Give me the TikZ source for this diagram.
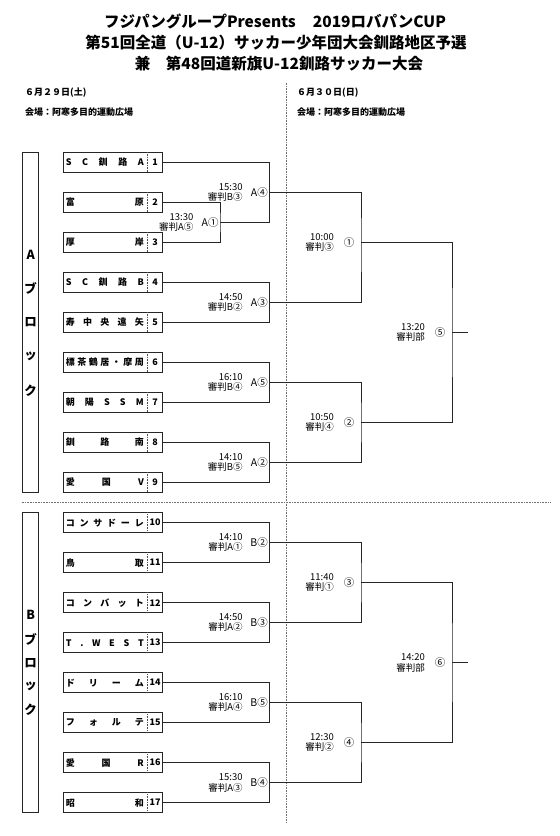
\documentclass[tikz,border=0pt]{standalone}
\usepackage{fontspec}
\setmainfont{Noto Sans CJK JP}
\usetikzlibrary{calc}
\tikzset{
  ln/.style={line width=0.8pt, draw=black!85},
  sep/.style={line width=0.7pt, draw=black!55, dash pattern=on 0.8pt off 0.8pt},
  teambox/.style={draw=black!85, line width=0.8pt, minimum width=99.4pt, minimum height=20pt, inner sep=0pt},
  blockbox/.style={draw=black!85, line width=0.9pt, minimum width=16pt, inner sep=0pt},
  blkch/.style={font=\fontsize{12.5}{12.5}\selectfont\bfseries, inner sep=0pt},
  tname/.style={anchor=west, inner sep=0pt, font=\fontsize{9}{9}\selectfont\bfseries},
  tnum/.style={inner sep=0pt, font=\fontsize{9}{9}\selectfont\bfseries},
  timelbl/.style={anchor=east, align=right, inner sep=0pt, font=\fontsize{9.5}{10.5}\selectfont},
  reslbl/.style={anchor=east, inner sep=0pt, font=\fontsize{10.5}{10.5}\selectfont},
  rndlbl/.style={inner sep=0pt, font=\fontsize{10.5}{10.5}\selectfont},
  titlef/.style={inner sep=0pt, font=\fontsize{15.5}{15.5}\selectfont\bfseries},
  datef/.style={anchor=west, inner sep=0pt, font=\fontsize{9}{9}\selectfont\bfseries}
}
\newcommand{\nm}[1]{\hbox to 78pt{#1}}
\begin{document}
\begin{tikzpicture}[x=1pt,y=-1pt]
\useasboundingbox (0,0) rectangle (560,836);
\fill[white] (0,0) rectangle (560,836);

% titles
\node[titlef] (ttl1) at (275,21.7) {フジパングループPresents\hspace{1.1em}2019ロバパンCUP};
\node[titlef] (ttl2) at (276,42.7) {第51回全道（U-12）サッカー少年団大会釧路地区予選};
\node[titlef] (ttl3) at (279,63.3) {兼　第48回道新旗U-12釧路サッカー大会};

% dates
\node[datef] (d1) at (25,92.3) {６月２９日(土)};
\node[datef] (v1) at (25,112.5) {会場：阿寒多目的運動広場};
\node[datef] (d2) at (297,92.3) {６月３０日(日)};
\node[datef] (v2) at (297,112.5) {会場：阿寒多目的運動広場};

% separators
\coordinate (sv1) at (286.7,82.7);
\coordinate (sv2) at (286.7,823);
\coordinate (sh1) at (21.7,502.7);
\coordinate (sh2) at (551,502.7);
\draw[sep] (sv1) -- (sv2);
\draw[sep] (sh1) -- (sh2);

% block boxes
\node[blockbox, minimum height=339.6pt] (blkA) at (30.7,322.5) {};
\node[blkch] (a1) at (30.7,254.5) {A};
\node[blkch] (a2) at (30.7,288.5) {ブ};
\node[blkch] (a3) at (30.7,322.5) {ロ};
\node[blkch] (a4) at (30.7,356.5) {ッ};
\node[blkch] (a5) at (30.7,390.5) {ク};
\node[blockbox, minimum height=300pt] (blkB) at (30.7,662.7) {};
\node[blkch] (b1) at (30.7,615.3) {B};
\node[blkch] (b2) at (30.7,639) {ブ};
\node[blkch] (b3) at (30.7,662.7) {ロ};
\node[blkch] (b4) at (30.7,686.4) {ッ};
\node[blkch] (b5) at (30.7,710.1) {ク};

% teams
\foreach \i/\y/\n in {
 1/162.5/{S\hfill C\hfill 釧\hfill 路\hfill A},
 2/202.5/{富\hfill 原},
 3/242.5/{厚\hfill 岸},
 4/282.5/{S\hfill C\hfill 釧\hfill 路\hfill B},
 5/322.5/{寿\hfill 中\hfill 央\hfill 遠\hfill 矢},
 6/362.5/{標\hfill 茶\hfill 鶴\hfill 居\hfill ・\hfill 摩\hfill 周},
 7/402.5/{朝\hfill 陽\hfill S\hfill S\hfill M},
 8/442.5/{釧\hfill 路\hfill 南},
 9/482.5/{愛\hfill 国\hfill V},
 10/522.7/{コ\hfill ン\hfill サ\hfill ド\hfill ー\hfill レ},
 11/562.7/{鳥\hfill 取},
 12/602.7/{コ\hfill ン\hfill バ\hfill ッ\hfill ト},
 13/642.7/{T\hfill .\hfill W\hfill E\hfill S\hfill T},
 14/682.7/{ド\hfill リ\hfill ー\hfill ム},
 15/722.7/{フ\hfill ォ\hfill ル\hfill テ},
 16/762.7/{愛\hfill 国\hfill R},
 17/802.7/{昭\hfill 和}}
{
 \node[teambox] (t\i) at (113,\y) {};
 \draw[line width=0.6pt, draw=black!70, dash pattern=on 0.8pt off 0.8pt] ([xshift=-16pt]t\i.north east) -- ([xshift=-16pt]t\i.south east);
 \node[tname] (tn\i) at ([xshift=2.7pt]t\i.west) {\nm{\n}};
 \node[tnum] (tk\i) at ([xshift=-8pt]t\i.east) {\i};
}

% match coordinates
\coordinate (mA1) at (220,222.5);
\coordinate (mA4) at (269.3,192.5);
\coordinate (mA3) at (269.3,302.5);
\coordinate (mA5) at (269.3,382.5);
\coordinate (mA2) at (269.3,462.5);
\coordinate (mB2) at (269.3,542.7);
\coordinate (mB3) at (269.3,622.7);
\coordinate (mB5) at (269.3,702.7);
\coordinate (mB4) at (269.3,782.7);
\coordinate (r1) at (361,242.5);
\coordinate (r2) at (361,422.5);
\coordinate (r3) at (361,582.7);
\coordinate (r4) at (361,742.7);
\coordinate (f1) at (452,332.5);
\coordinate (f2) at (452,662.7);
\coordinate (e1) at (468,332.5);
\coordinate (e2) at (468,662.7);

% connectors
\draw[ln] (t2.east) -| (mA1) |- (t3.east);
\draw[ln] (t1.east) -| (mA4) |- (mA1);
\draw[ln] (t4.east) -| (mA3) |- (t5.east);
\draw[ln] (t6.east) -| (mA5) |- (t7.east);
\draw[ln] (t8.east) -| (mA2) |- (t9.east);
\draw[ln] (t10.east) -| (mB2) |- (t11.east);
\draw[ln] (t12.east) -| (mB3) |- (t13.east);
\draw[ln] (t14.east) -| (mB5) |- (t15.east);
\draw[ln] (t16.east) -| (mB4) |- (t17.east);
\draw[ln] (mA4) -| (r1) |- (mA3);
\draw[ln] (mA5) -| (r2) |- (mA2);
\draw[ln] (mB2) -| (r3) |- (mB3);
\draw[ln] (mB5) -| (r4) |- (mB4);
\draw[ln] (r1) -| (f1) |- (r2);
\draw[ln] (r3) -| (f2) |- (r4);
\draw[ln] (f1) -- (e1);
\draw[ln] (f2) -- (e2);

% labels round 1
\foreach \m/\t/\r/\res in {
 mA1/13:30/A⑤/A①,
 mA4/15:30/B③/A④,
 mA3/14:50/B②/A③,
 mA5/16:10/B④/A⑤,
 mA2/14:10/B⑤/A②,
 mB2/14:10/A①/B②,
 mB3/14:50/A②/B③,
 mB5/16:10/A④/B⑤,
 mB4/15:30/A③/B④}
{
 \node[timelbl] (lt\m) at ([xshift=-26.5pt]\m) {\t\\審判\r};
 \node[reslbl] (lr\m) at ([xshift=-1.3pt]\m) {\res};
}

% labels round 2 and final
\foreach \m/\t/\r/\res in {
 r1/10:00/審判③/①,
 r2/10:50/審判④/②,
 r3/11:40/審判①/③,
 r4/12:30/審判②/④,
 f1/13:20/審判部/⑤,
 f2/14:20/審判部/⑥}
{
 \node[timelbl] (lt\m) at ([xshift=-27pt]\m) {\t\\\r};
 \node[rndlbl] (lr\m) at ([xshift=-12pt]\m) {\res};
}
\end{tikzpicture}
\end{document}
